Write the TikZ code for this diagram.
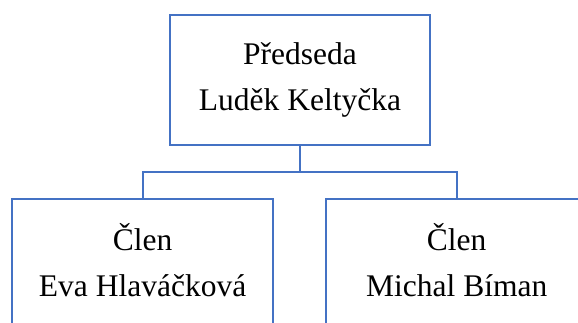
\documentclass[tikz,border=0pt]{standalone}
\usepackage{fontspec}
\setmainfont{Liberation Serif}
\definecolor{boxblue}{RGB}{68,114,196}
\begin{document}
\begin{tikzpicture}[x=1pt,y=-1pt,
  orgbox/.style={draw=boxblue,line width=2pt,minimum width=260.5pt,minimum height=130pt,inner sep=0pt,fill=white},
  link/.style={draw=boxblue,line width=2pt},
  lbl/.style={anchor=base,inner sep=0pt,font=\fontsize{31.5}{46}\selectfont}]
\clip (0,0) rectangle (578,323);
\useasboundingbox (0,0) rectangle (578,323);
\fill[white] (0,0) rectangle (578,323);
\node[orgbox] (top) at (300,79.75) {};
\node[orgbox] (left) at (142.6,264) {};
\node[orgbox] (right) at (456.7,264) {};
\coordinate (j) at (300,172);
\draw[link] (top.south) -- (j);
\draw[link] (j) -| (left.north);
\draw[link] (j) -| (right.north);
\node[lbl] (t1) at (300,65) {Předseda};
\node[lbl] (t2) at (300,111) {Luděk Keltyčka};
\node[lbl] (l1) at (142.6,250.7) {Člen};
\node[lbl] (l2) at (142.6,296.7) {Eva Hlaváčková};
\node[lbl] (r1) at (456.7,250.7) {Člen};
\node[lbl] (r2) at (456.7,296.7) {Michal Bíman};
\end{tikzpicture}
\end{document}
